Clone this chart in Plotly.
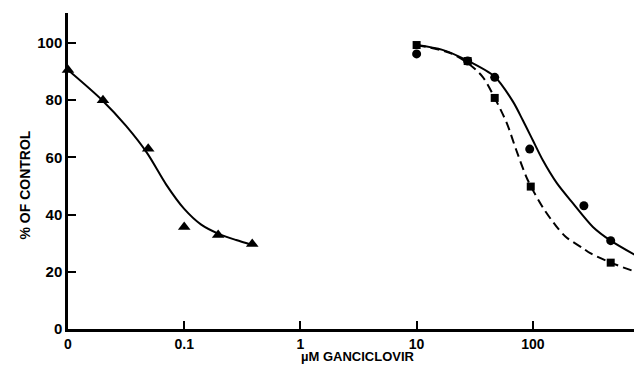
import plotly.graph_objects as go
import math

# --- data ---
tri_x = [0.01, 0.02, 0.049, 0.1, 0.196, 0.385]
tri_y = [90.6, 80.0, 63.0, 35.7, 32.9, 29.7]

circ_x = [10, 27.5, 47, 94, 275, 468]
circ_y = [96.2, 93.7, 88.0, 62.9, 43.1, 30.9]

sq_x = [10, 27.5, 47, 96, 468]
sq_y = [99.3, 93.7, 80.8, 49.8, 23.2]

# fitted curves as drawn in the reference
tri_fit_x = [0.01, 0.0196, 0.0316, 0.048, 0.07, 0.1, 0.14, 0.2, 0.28, 0.385]
tri_fit_y = [90.6, 80.1, 71.0, 61.5, 50.5, 42.0, 36.5, 33.2, 31.1, 29.4]

solid_fit_x = [10, 16.7, 27.5, 47, 67.5, 82, 100, 122, 161, 221, 329, 468, 871]
solid_fit_y = [99.3, 97.6, 93.8, 88.2, 79.5, 73, 66, 59, 51, 44, 35.7, 30.9, 24.5]

dash_fit_x = [10, 19.2, 27.5, 37, 47, 59.7, 72, 90.6, 122, 160, 195, 269, 312, 468, 871]
dash_fit_y = [99.3, 96.6, 93.0, 88.2, 80.8, 72.0, 62.6, 52.0, 42.5, 35.8, 32.0, 28.3, 26.5, 23.2, 19.2]

x_tickvals = [0.01, 0.1, 1, 10, 100]
x_ticktext = ["0", "0.1", "1", "10", "100"]
y_tickvals = [0, 20, 40, 60, 80, 100]

FONT = "Liberation Sans"
SMOOTH = 0.8

fig = go.Figure()
fig.add_trace(go.Scatter(x=tri_fit_x, y=tri_fit_y, mode="lines",
                         line=dict(color="black", width=2, shape="spline", smoothing=SMOOTH),
                         hoverinfo="skip", cliponaxis=False))
fig.add_trace(go.Scatter(x=solid_fit_x, y=solid_fit_y, mode="lines",
                         line=dict(color="black", width=2, shape="spline", smoothing=SMOOTH),
                         hoverinfo="skip", cliponaxis=False))
fig.add_trace(go.Scatter(x=dash_fit_x, y=dash_fit_y, mode="lines",
                         line=dict(color="black", width=2, shape="spline", smoothing=SMOOTH,
                                   dash="9px,5px"),
                         hoverinfo="skip", cliponaxis=False))
fig.add_trace(go.Scatter(x=tri_x, y=tri_y, mode="markers",
                         marker=dict(symbol="triangle-up", size=11, color="black"),
                         cliponaxis=False))
fig.add_trace(go.Scatter(x=circ_x, y=circ_y, mode="markers",
                         marker=dict(symbol="circle", size=9, color="black"),
                         cliponaxis=False))
fig.add_trace(go.Scatter(x=sq_x, y=sq_y, mode="markers",
                         marker=dict(symbol="square", size=8, color="black"),
                         cliponaxis=False))

fig.update_layout(
    width=634, height=366,
    margin=dict(l=60, r=0, t=5, b=45),
    paper_bgcolor="white", plot_bgcolor="white",
    showlegend=False,
    font=dict(family=FONT, color="black", size=14, weight="bold"),
    xaxis=dict(type="log", range=[-2, math.log10(870)],
               tickmode="array", tickvals=x_tickvals, ticktext=x_ticktext,
               ticks="inside", ticklen=8, tickwidth=2, tickcolor="black",
               showline=True, linecolor="black", linewidth=2.5,
               showgrid=False, zeroline=False, automargin=False,
               tickfont=dict(family=FONT, size=14, color="black", weight="bold")),
    yaxis=dict(range=[0, 110.5],
               tickmode="array", tickvals=y_tickvals,
               ticks="inside", ticklen=8, tickwidth=2, tickcolor="black",
               showline=True, linecolor="black", linewidth=2.5,
               showgrid=False, zeroline=False, automargin=False,
               tickfont=dict(family=FONT, size=15, color="black", weight="bold")),
    annotations=[
        dict(text="% OF CONTROL", xref="paper", yref="paper",
             x=-0.075, y=0.457, textangle=-90, showarrow=False,
             xanchor="center", yanchor="middle",
             font=dict(family=FONT, size=14, color="black", weight="bold")),
        dict(text="µM GANCICLOVIR", xref="paper", yref="paper",
             x=0.505, y=-0.0886, showarrow=False,
             xanchor="center", yanchor="middle",
             font=dict(family=FONT, size=13, color="black", weight="bold")),
    ],
)

fig.write_html("out.html")
